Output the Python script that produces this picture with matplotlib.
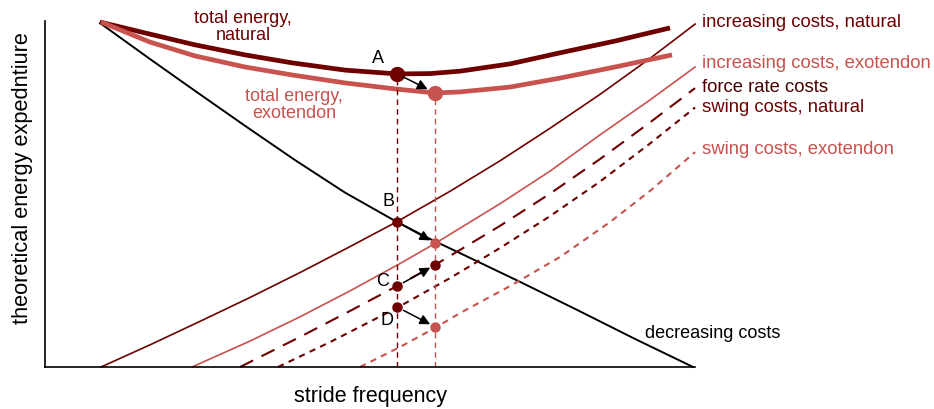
import matplotlib
matplotlib.use("Agg")
import matplotlib.pyplot as plt

plt.rcParams['font.family'] = ['Liberation Sans', 'DejaVu Sans']

DARK = '#6e0000'
LIGHT = '#c8524e'

# curves (stride frequency, energy), arbitrary units 0-10
total_nat_x = [0.846, 1.615, 2.308, 3.077, 3.800, 4.615, 5.415, 5.923, 6.385, 7.154, 7.923, 8.769, 9.615]
total_nat_y = [9.97, 9.62, 9.31, 9.02, 8.79, 8.58, 8.47, 8.48, 8.55, 8.76, 9.08, 9.42, 9.80]

total_exo_x = [0.862, 1.615, 2.308, 3.077, 3.800, 4.615, 5.415, 6.0, 6.385, 7.154, 7.923, 8.769, 9.646]
total_exo_y = [9.97, 9.39, 8.99, 8.67, 8.44, 8.21, 8.03, 7.92, 7.95, 8.09, 8.35, 8.67, 9.02]

decr_x = [0.846, 1.615, 2.308, 3.077, 3.846, 4.615, 5.415, 5.923, 6.385, 7.308, 8.185, 9.077, 9.969]
decr_y = [9.94, 8.90, 7.98, 6.97, 5.98, 5.04, 4.19, 3.70, 3.29, 2.46, 1.65, 0.81, 0.0]

incr_nat_x = [0.862, 1.615, 2.385, 3.154, 3.923, 4.692, 5.415, 6.231, 7.0, 7.769, 8.538, 9.308, 10.0]
incr_nat_y = [0.0, 0.64, 1.32, 2.01, 2.73, 3.48, 4.20, 5.08, 5.96, 6.90, 7.88, 8.92, 9.91]

incr_exo_x = [2.262, 3.154, 3.923, 4.692, 5.462, 6.0, 7.0, 7.769, 8.538, 9.308, 10.0]
incr_exo_y = [0.0, 0.75, 1.45, 2.20, 2.99, 3.57, 4.72, 5.66, 6.71, 7.72, 8.67]

force_x = [3.0, 3.923, 4.692, 5.415, 6.0, 7.0, 7.769, 8.538, 9.308, 10.0]
force_y = [0.0, 0.87, 1.62, 2.34, 2.95, 4.08, 5.01, 6.01, 7.07, 8.06]

swing_nat_x = [3.585, 4.385, 5.415, 6.231, 7.0, 7.769, 8.538, 9.308, 10.0]
swing_nat_y = [0.0, 0.72, 1.71, 2.57, 3.44, 4.36, 5.36, 6.46, 7.50]

swing_exo_x = [4.846, 5.462, 6.0, 6.385, 7.154, 7.923, 8.692, 9.308, 10.0]
swing_exo_y = [0.0, 0.58, 1.13, 1.56, 2.34, 3.18, 4.19, 5.09, 6.21]

# optimum frequencies and the points marked A-D
f_nat = 5.42
f_exo = 6.00
pt_labels = ['A', 'B', 'C', 'D']
nat_pts = [8.47, 4.19, 2.34, 1.73]
exo_pts = [7.92, 3.58, 2.95, 1.16]
exo_pt_colors = [LIGHT, LIGHT, DARK, LIGHT]
pt_label_x = [5.12, 5.28, 5.20, 5.26]
pt_label_y = [8.93, 4.77, 2.48, 1.33]

line_labels = ['increasing costs, natural', 'increasing costs, exotendon',
               'force rate costs', 'swing costs, natural', 'swing costs, exotendon']
line_label_y = [9.97, 8.76, 8.09, 7.49, 6.30]
line_label_colors = [DARK, LIGHT, '#4a0000', DARK, LIGHT]

fig = plt.figure(figsize=(9.34, 4.09), dpi=100)
ax = fig.add_axes([0.0482, 0.1027, 0.696, 0.846])
ax.set_xlim(0, 10)
ax.set_ylim(0, 10)

# thin cost curves
ax.plot(decr_x, decr_y, color='black', lw=1.4, clip_on=False)
ax.plot(incr_nat_x, incr_nat_y, color=DARK, lw=1.2, clip_on=False)
ax.plot(incr_exo_x, incr_exo_y, color=LIGHT, lw=1.2, clip_on=False)
ax.plot(force_x, force_y, color=DARK, lw=1.5, dashes=(7, 4.5), clip_on=False)
ax.plot(swing_nat_x, swing_nat_y, color=DARK, lw=1.5, dashes=(3, 2.6), clip_on=False)
ax.plot(swing_exo_x, swing_exo_y, color=LIGHT, lw=1.5, dashes=(3, 2.6), clip_on=False)

# total energy curves
ax.plot(total_nat_x, total_nat_y, color=DARK, lw=3.4, solid_capstyle='butt',
        solid_joinstyle='round', clip_on=False)
ax.plot(total_exo_x, total_exo_y, color=LIGHT, lw=3.4, solid_capstyle='butt',
        solid_joinstyle='round', clip_on=False)

# vertical guides at the optima
ax.plot([f_nat, f_nat], [0, nat_pts[0]], color=DARK, lw=1.0, dashes=(4, 3))
ax.plot([f_exo, f_exo], [0, exo_pts[0]], color=LIGHT, lw=1.0, dashes=(4, 3))

# points and arrows
for i, lab in enumerate(pt_labels):
    size = 10 if i == 0 else 6.5
    ax.plot(f_nat, nat_pts[i], 'o', color=DARK, ms=size, zorder=5)
    ax.plot(f_exo, exo_pts[i], 'o', color=exo_pt_colors[i], ms=size, zorder=5)
    ax.annotate('', xy=(f_exo, exo_pts[i]), xytext=(f_nat, nat_pts[i]),
                arrowprops=dict(arrowstyle='-|>', color='black', lw=1.1,
                                mutation_scale=15, shrinkA=5, shrinkB=6 if i == 0 else 4),
                zorder=6)
    ax.text(pt_label_x[i], pt_label_y[i], lab, fontsize=13, ha='center', va='center')

ax.text(3.05, 9.83, 'total energy,\nnatural', color=DARK, fontsize=13,
        ha='center', va='center', linespacing=0.95)
ax.text(3.83, 7.57, 'total energy,\nexotendon', color=LIGHT, fontsize=13,
        ha='center', va='center', linespacing=0.95)
ax.text(9.23, 0.98, 'decreasing costs', color='black', fontsize=13, ha='left', va='center')

for lab, y, c in zip(line_labels, line_label_y, line_label_colors):
    ax.text(10.11, y, lab, color=c, fontsize=13.3, ha='left', va='center', clip_on=False)

ax.set_xlabel('stride frequency', fontsize=15.5, labelpad=14)
ax.set_ylabel('theoretical energy expedntiure', fontsize=15.7, va='center')
ax.yaxis.set_label_coords(-0.035, 0.546)
ax.set_xticks([])
ax.set_yticks([])
ax.spines['top'].set_visible(False)
ax.spines['right'].set_visible(False)
ax.spines['left'].set_linewidth(1.2)
ax.spines['bottom'].set_linewidth(1.2)

fig.savefig('out.png', dpi=100)
